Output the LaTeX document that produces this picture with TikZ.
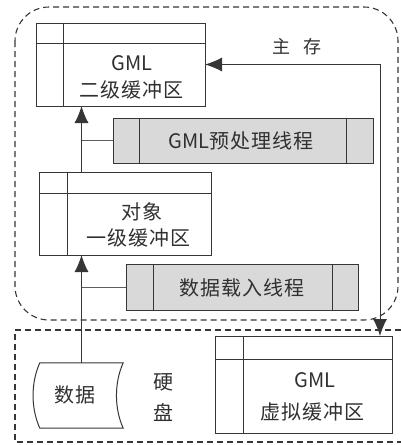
\documentclass[tikz,border=0pt]{standalone}
\usepackage{fontspec}
\setmainfont{Noto Sans CJK SC}
\newfontfamily\cjsp{Noto Sans CJK SC}[LetterSpace=5]
\usetikzlibrary{arrows.meta}
\definecolor{ln}{HTML}{363636}
\definecolor{tx}{HTML}{303030}
\definecolor{thrfill}{HTML}{D9D9D9}
\tikzset{myarr/.tip={Latex[length=17pt,width=14pt]}}
\newcommand\bufparts[3]{%
  \draw[conn] ([yshift=-#2pt]#1.north west) -- ([yshift=-#2pt]#1.north east);
  \draw[conn] ([xshift=#3pt]#1.north west) -- ([xshift=#3pt]#1.south west);}
\newcommand\thrparts[3]{%
  \draw[conn] ([xshift=#2pt]#1.north west) -- ([xshift=#2pt]#1.south west);
  \draw[conn] ([xshift=-#3pt]#1.north east) -- ([xshift=-#3pt]#1.south east);}
\begin{document}
\begin{tikzpicture}[x=1pt,y=-1pt,
  conn/.style={draw=ln, line width=1pt},
  box/.style={conn, inner sep=0pt, outer sep=0pt, anchor=north west},
  buf/.style={box, fill=white},
  thr/.style={box, fill=thrfill},
  txt/.style={text=tx, font=\fontsize{20}{24}\selectfont, inner sep=0pt},
  mem/.style={draw=ln, line width=1.1pt, dash pattern=on 6pt off 4pt},
  branch/.style={draw=ln!80, line width=0.8pt}]
\useasboundingbox (0,0) rectangle (400,445);
\fill[white] (0,0) rectangle (400,445);
% dashed regions
\draw[mem, rounded corners=34pt] (15,7) rectangle (398,320);
\draw[mem] (401,330) -- (15,330) -- (15,442) -- (401,442);
% boxes
\node[buf, minimum width=169pt, minimum height=83pt] (gml) at (36,23) {};
\bufparts{gml}{20}{27}
\node[thr, minimum width=260pt, minimum height=45pt] (pre) at (113,118) {};
\thrparts{pre}{26}{27}
\node[buf, minimum width=172pt, minimum height=83pt] (obj) at (39,172) {};
\bufparts{obj}{21}{28}
\node[thr, minimum width=232pt, minimum height=46pt] (load) at (126,264) {};
\thrparts{load}{27}{26}
\node[buf, minimum width=177pt, minimum height=97pt] (virt) at (215,336) {};
\bufparts{virt}{23}{28}
% data shape
\node[inner sep=0pt, minimum width=83pt, minimum height=65pt] (data) at (81.5,395.5) {};
\draw[conn] (data.north west) .. controls ([shift={(-9,20)}]data.north west) and ([shift={(-9,-20)}]data.south west) .. (data.south west)
  -- (data.south east) .. controls ([shift={(-9,-20)}]data.south east) and ([shift={(-9,20)}]data.north east) .. (data.north east) -- cycle;
% texts
\node[txt] (t1) at (132,63) {GML};
\node[txt] (t2) at (131,90) {\cjsp 二级缓冲区};
\node[txt] (t3) at (142,212) {\cjsp 对象};
\node[txt] (t4) at (138,238) {\cjsp 一级缓冲区};
\node[txt] (t5) at (241,140.5) {GML{\cjsp 预处理线程}};
\node[txt] (t6) at (242,288) {\cjsp 数据载入线程};
\node[txt] (t7) at (315,380) {GML};
\node[txt] (t8) at (312,412) {\cjsp 虚拟缓冲区};
\node[txt] (t9) at (75,395) {\cjsp 数据};
\node[txt] (t10) at (163,382) {硬};
\node[txt] (t11) at (163,413) {盘};
\node[txt, font=\fontsize{18}{20}\selectfont] (t12) at (297,47) {主\hspace{14pt}存};
% connectors
\coordinate (cr) at (380,64.5);
\draw[conn, -myarr] (data.north) -- (data.north |- obj.south);
\draw[conn, -myarr] (data.north |- obj.north) -- (data.north |- gml.south);
\draw[branch] (data.north |- pre.west) -- (pre.west);
\draw[branch] (data.north |- load.west) -- (load.west);
\draw[conn, myarr-myarr] (gml.east) -- (cr) -- (cr |- virt.north);
\end{tikzpicture}
\end{document}
